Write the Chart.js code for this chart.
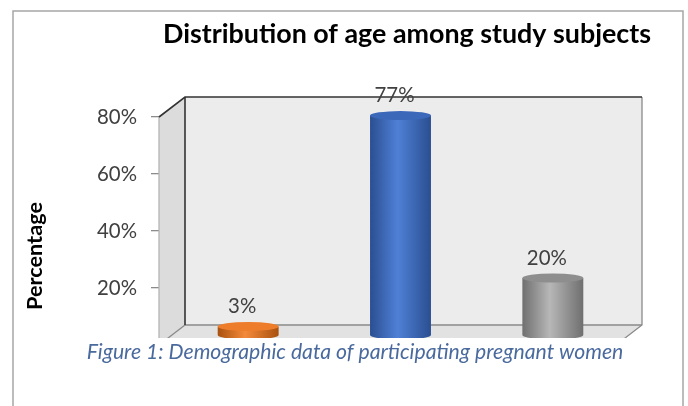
<!DOCTYPE html>
<html>
<head>
<meta charset="utf-8">
<script src="https://cdn.jsdelivr.net/npm/chart.js@4.4.1/dist/chart.umd.min.js"></script>
<style>
  html, body { margin: 0; padding: 0; background: #ffffff; }
  canvas { display: block; }
</style>
</head>
<body>
<canvas id="c" width="688" height="406"></canvas>
<script>
// ---- data ----
const categories = ['< 20 years', '20-35 years', '> 35 years'];
const percentValues = [3, 77, 20];
const yTickValues = [20, 40, 60, 80];
const titleText = 'Distribution of age among study subjects';
const yAxisTitle = 'Percentage';
const captionText = 'Figure 1: Demographic data of participating pregnant women';

// ---- styles ----
const FAMILY = 'Lato, "Open Sans", sans-serif';
const DEPTH_X = 26, DEPTH_Y = -20;
const cylStyles = [
  { edge: '#a9510f', mid: '#f48a3a', top: '#ee7d2b' },
  { edge: '#2a4f91', mid: '#4f80d6', top: '#3c68ba' },
  { edge: '#6f6f6f', mid: '#b7b7b7', top: '#8e8e8e' }
];

const mctx = document.createElement('canvas').getContext('2d');
function fitSize(text, weight, style, target) {
  mctx.font = style + ' ' + weight + ' 100px ' + FAMILY;
  return 100 * target / mctx.measureText(text).width;
}
const tickSize = fitSize('80%', 'normal', 'normal', 40);
const titleSize = fitSize(titleText, 'bold', 'normal', 488);
const yTitleSize = fitSize(yAxisTitle, 'bold', 'normal', 108);
const captionSize = fitSize(captionText, 'normal', 'italic', 537);

const decoPlugin = {
  id: 'deco',
  beforeDatasetsDraw(chart) {
    const ctx = chart.ctx, a = chart.chartArea;
    const L = a.left, R = a.right, T = a.top, B = a.bottom;
    ctx.save();
    // back wall
    ctx.fillStyle = '#ececec';
    ctx.fillRect(L + DEPTH_X, T + DEPTH_Y, R - L, B - T);
    // side wall
    ctx.fillStyle = '#dcdcdc';
    ctx.beginPath();
    ctx.moveTo(L, T); ctx.lineTo(L + DEPTH_X, T + DEPTH_Y);
    ctx.lineTo(L + DEPTH_X, B + DEPTH_Y); ctx.lineTo(L, B); ctx.closePath();
    ctx.fill();
    // floor
    ctx.fillStyle = '#e2e2e2';
    ctx.beginPath();
    ctx.moveTo(L, B); ctx.lineTo(L + DEPTH_X, B + DEPTH_Y);
    ctx.lineTo(R + DEPTH_X, B + DEPTH_Y); ctx.lineTo(R, B); ctx.closePath();
    ctx.fill();
    // edges
    ctx.lineWidth = 1.3;
    ctx.strokeStyle = '#b4b4b4';
    ctx.beginPath(); ctx.moveTo(L, T); ctx.lineTo(L, B); ctx.stroke();
    ctx.strokeStyle = '#8a8a8a';
    ctx.beginPath(); ctx.moveTo(R + DEPTH_X, T + DEPTH_Y); ctx.lineTo(R + DEPTH_X, B + DEPTH_Y);
    ctx.lineTo(R, B); ctx.stroke();
    ctx.beginPath(); ctx.moveTo(L + DEPTH_X, B + DEPTH_Y); ctx.lineTo(R + DEPTH_X, B + DEPTH_Y); ctx.stroke();
    ctx.beginPath(); ctx.moveTo(L + DEPTH_X, B + DEPTH_Y); ctx.lineTo(L, B); ctx.stroke();
    ctx.strokeStyle = '#333333';
    ctx.lineWidth = 1.6;
    ctx.beginPath(); ctx.moveTo(L, T); ctx.lineTo(L + DEPTH_X, T + DEPTH_Y);
    ctx.lineTo(R + DEPTH_X, T + DEPTH_Y); ctx.stroke();
    ctx.beginPath(); ctx.moveTo(L + DEPTH_X, T + DEPTH_Y); ctx.lineTo(L + DEPTH_X, B + DEPTH_Y); ctx.stroke();
    ctx.restore();
  },
  afterDatasetsDraw(chart) {
    const ctx = chart.ctx;
    const meta = chart.getDatasetMeta(0);
    const dx = DEPTH_X / 2, dy = DEPTH_Y / 2;
    ctx.save();
    meta.data.forEach((el, i) => {
      const st = cylStyles[i];
      const cx = el.x + dx, w = el.width, rx = w / 2, ry = 4.5;
      const topY = el.y + dy, baseY = el.base + dy;
      const g = ctx.createLinearGradient(cx - rx, 0, cx + rx, 0);
      g.addColorStop(0, st.edge);
      g.addColorStop(0.45, st.mid);
      g.addColorStop(1, st.edge);
      ctx.fillStyle = g;
      ctx.beginPath();
      ctx.moveTo(cx - rx, topY);
      ctx.lineTo(cx - rx, baseY);
      ctx.ellipse(cx, baseY, rx, ry, 0, Math.PI, 0, true);
      ctx.lineTo(cx + rx, topY);
      ctx.closePath();
      ctx.fill();
      ctx.fillStyle = st.top;
      ctx.beginPath();
      ctx.ellipse(cx, topY, rx, ry, 0, 0, Math.PI * 2);
      ctx.fill();
      // value label
      ctx.fillStyle = '#404040';
      ctx.font = 'normal ' + tickSize.toFixed(2) + 'px ' + FAMILY;
      ctx.textAlign = 'center';
      ctx.textBaseline = 'middle';
      ctx.fillText(percentValues[i] + '%', el.x + 7, topY - 20);
    });
    ctx.restore();
  },
  afterDraw(chart) {
    const ctx = chart.ctx;
    ctx.save();
    // white band under the plot (caption area)
    ctx.fillStyle = '#ffffff';
    ctx.fillRect(14, 338, 668, 68);
    // caption
    ctx.fillStyle = '#4a6a9e';
    ctx.font = 'italic normal ' + captionSize.toFixed(2) + 'px ' + FAMILY;
    ctx.textAlign = 'center';
    ctx.textBaseline = 'middle';
    ctx.fillText(captionText, 355, 352);
    // title
    ctx.fillStyle = '#000000';
    ctx.font = 'normal bold ' + titleSize.toFixed(2) + 'px ' + FAMILY;
    ctx.fillText(titleText, 407, 34);
    // y axis title
    ctx.save();
    ctx.translate(35, 256);
    ctx.rotate(-Math.PI / 2);
    ctx.font = 'normal bold ' + yTitleSize.toFixed(2) + 'px ' + FAMILY;
    ctx.fillText(yAxisTitle, 0, 0);
    ctx.restore();
    // outer border
    ctx.strokeStyle = '#a6a6a6';
    ctx.lineWidth = 1.5;
    ctx.beginPath();
    ctx.moveTo(13, 406); ctx.lineTo(13, 11); ctx.lineTo(683, 11); ctx.lineTo(683, 406);
    ctx.stroke();
    ctx.restore();
  }
};

new Chart(document.getElementById('c'), {
  type: 'bar',
  data: {
    labels: categories,
    datasets: [{
      label: 'Percentage',
      data: percentValues,
      backgroundColor: 'rgba(0,0,0,0)',
      borderWidth: 0,
      categoryPercentage: 1,
      barPercentage: 0.4
    }]
  },
  options: {
    responsive: false,
    animation: false,
    devicePixelRatio: 1,
    layout: { padding: { left: 0, top: 117, right: 72, bottom: 61 } },
    plugins: { legend: { display: false }, title: { display: false }, tooltip: { enabled: false } },
    scales: {
      x: { display: false },
      y: {
        min: 0, max: 80,
        afterFit(s) { s.width = 159; },
        afterBuildTicks(s) { s.ticks = yTickValues.map(v => ({ value: v })); },
        border: { display: false },
        grid: { drawOnChartArea: false, drawTicks: true, tickLength: 8, color: '#8c8c8c', lineWidth: 1.3 },
        ticks: {
          padding: 14,
          color: '#404040',
          font: { family: FAMILY, size: tickSize },
          callback: v => v + '%'
        }
      }
    }
  },
  plugins: [decoPlugin]
});
</script>
</body>
</html>
